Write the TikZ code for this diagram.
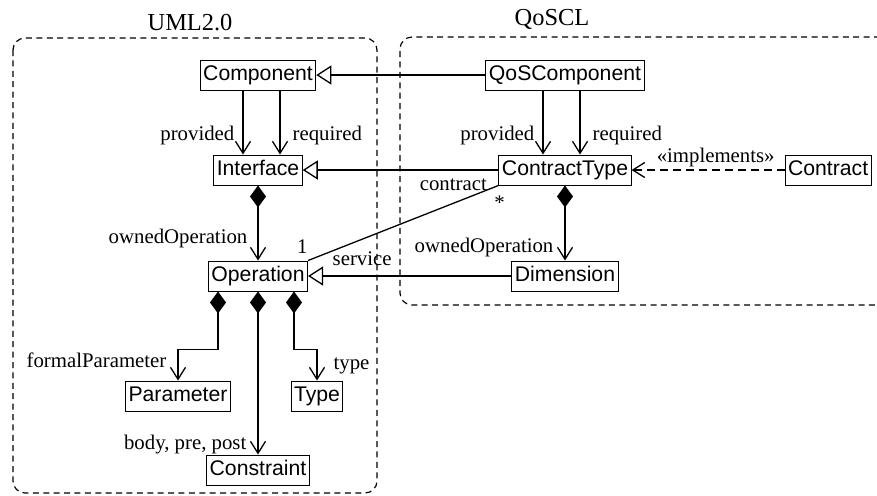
\documentclass[tikz,border=0pt]{standalone}
\usepackage{fontspec}
\setmainfont{Liberation Serif}
\setsansfont{Liberation Sans}
\usetikzlibrary{arrows.meta,positioning}
\tikzset{
  cls/.style={draw, line width=0.5pt, font=\sffamily\fontsize{10.6}{12}\selectfont,
    minimum height=15pt, text height=8pt, text depth=2.3pt, inner xsep=1.5pt, inner ysep=1pt},
  lab/.style={font=\fontsize{10.4}{12}\selectfont, inner sep=1pt},
  pkgtitle/.style={font=\fontsize{12.2}{14}\selectfont},
  region/.style={draw, dash pattern=on 3pt off 2.2pt, line width=0.6pt, rounded corners=6pt},
  nav/.style={-{Straight Barb[length=6pt,width=7.5pt]}, line width=0.65pt},
  owns/.style={{Diamond[length=11pt,width=8pt]}-{Straight Barb[length=6pt,width=7.5pt]}, line width=0.65pt},
  gen/.style={-{Triangle[open,length=7.5pt,width=9.5pt]}, line width=0.65pt},
  real/.style={-{Straight Barb[length=6pt,width=7.5pt]}, dash pattern=on 4pt off 2.5pt, line width=0.65pt},
  assoc/.style={line width=0.65pt},
}

\begin{document}
\begin{tikzpicture}[x=0.5pt, y=-0.5pt]
  \useasboundingbox (0,0) rectangle (877,495);

  % packages
  \draw[region] (13,38) rectangle (377,493);
  \draw[region] (880,37) -- (400,37) -- (400,305) -- (880,305);
  \node[pkgtitle] (umltitle) at (190,23) {UML2.0};
  \node[pkgtitle] (qostitle) at (552,19) {QoSCL};

  % UML2.0 metaclasses
  \node[cls] (comp) at (258,75) {Component};
  \node[cls] (intf) [below=32pt of comp] {Interface};
  \node[cls] (op) [below=37.5pt of intf] {Operation};
  \node[cls] (param) at (178,396) {Parameter};
  \node[cls] (typ) at (317,396) {Type};
  \node[cls] (cons) [below=81.5pt of op] {Constraint};

  % QoSCL metaclasses
  \node[cls] (qcomp) at (565,75) {QoSComponent};
  \node[cls] (ctype) [below=32pt of qcomp] {ContractType};
  \node[cls] (dim) [below=37.5pt of ctype] {Dimension};
  \node[cls] (contract) [right=76.5pt of ctype] {Contract};

  \draw[nav] ([xshift=-7.5pt]comp.south) -- node[lab, left=3pt, pos=0.7] {provided} ([xshift=-7.5pt]intf.north);
  \draw[nav] ([xshift=11pt]comp.south) -- node[lab, right=5pt, pos=0.7] {required} ([xshift=11pt]intf.north);
  \draw[owns] (intf.south) -- node[lab, left=4pt, pos=0.71] {ownedOperation} (op.north);

  \draw[owns] ([xshift=-20pt]op.south) -- ++(0,-29pt) -| node[lab, left=4.5pt, pos=0.68] {formalParameter} (param.north);
  \draw[owns] (op.south) -- node[lab, left=4.5pt, pos=0.94] {body, pre, post} (cons.north);
  \draw[owns] ([xshift=18pt]op.south) -- ++(0,-29pt) -| node[lab, right=7pt, pos=0.76] {type} (typ.north);

  \draw[nav] ([xshift=-11pt]qcomp.south) -- node[lab, left=3pt, pos=0.7] {provided} ([xshift=-11pt]ctype.north);
  \draw[nav] ([xshift=7.5pt]qcomp.south) -- node[lab, right=5pt, pos=0.7] {required} ([xshift=7.5pt]ctype.north);
  \draw[owns] (ctype.south) -- node[lab, left=4.5pt, pos=0.82] {ownedOperation} (dim.north);

  \draw[real] (contract.west) -- node[lab, above, pos=0.45] {«implements»} (ctype.east);

  \draw[gen] (qcomp.west) -- (comp.east);
  \draw[gen] (ctype.west) -- (intf.east);
  \draw[gen] (dim.west) -- (op.east);

  \draw[assoc] (ctype.south west) -- (op.north east)
    node[lab, pos=0, anchor=base east, xshift=-4.5pt, yshift=-2.5pt] {contract}
    node[lab, pos=0, anchor=north, xshift=0.5pt, yshift=-4pt] {*}
    node[lab, pos=1, anchor=base east, xshift=1pt, yshift=3.5pt] {1}
    node[lab, pos=1, anchor=base west, xshift=11pt, yshift=-2.5pt] {service};
\end{tikzpicture}
\end{document}
